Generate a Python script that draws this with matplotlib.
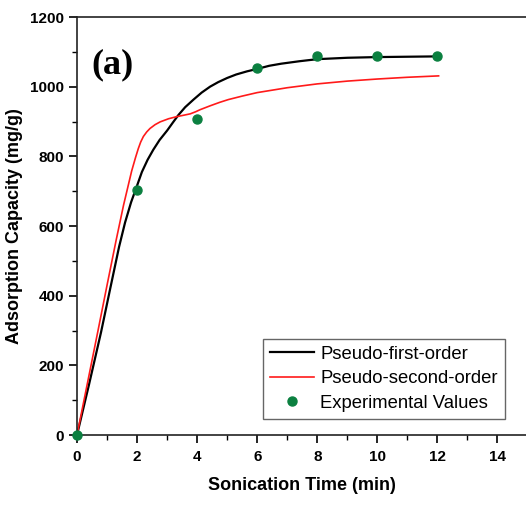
import matplotlib.pyplot as plt
from matplotlib.ticker import MultipleLocator

# valores
t_exp = [0, 2, 4, 6, 8, 10, 12]
q_exp = [0, 703, 907, 1053, 1089, 1089, 1089]

t_pfo = [0, 0.4, 0.8, 1.1, 1.4, 1.6, 1.8, 2.0, 2.16, 2.35, 2.54, 2.75, 3.0, 3.2, 3.38,
         3.6, 3.88, 4.15, 4.43, 4.7, 5.0, 5.3, 5.66, 6.0, 6.4, 6.8, 7.4, 8.0, 9.0,
         10.0, 11.0, 12.04]
q_pfo = [0, 145, 295, 418, 540, 610, 668, 716, 755, 790, 819, 847, 874, 898, 919,
         941, 963, 983, 1000, 1013, 1025, 1035, 1044, 1051, 1060, 1066, 1073, 1079,
         1083, 1085, 1086, 1087]

t_pso = [0, 0.35, 0.7, 1.0, 1.3, 1.55, 1.82, 1.95, 2.04, 2.12, 2.21, 2.32, 2.43, 2.6,
         2.77, 3.05, 3.32, 3.55, 3.77, 3.95, 4.1, 4.43, 4.75, 5.04, 5.5, 6.0, 7.0, 8.0,
         9.0, 10.0, 11.0, 12.04]
q_pso = [0, 150, 300, 430, 558, 660, 758, 797, 822, 841, 857, 870, 880, 891,
         899, 908, 914, 918, 922, 928, 934, 945, 955, 963, 973, 983, 997, 1008,
         1016, 1022, 1027, 1031]

plt.rcParams['font.family'] = ['Liberation Sans', 'DejaVu Sans']

fig = plt.figure(figsize=(5.26, 5.08), dpi=100)
ax = fig.add_axes([0.1464, 0.1437, 0.8536, 0.8228])

ax.plot(t_pfo, q_pfo, color='black', linewidth=1.6, label='Pseudo-first-order')
ax.plot(t_pso, q_pso, color='#ff1a1a', linewidth=1.2, label='Pseudo-second-order')
ax.plot(t_exp, q_exp, 'o', color='#0b8040', markersize=6.5, label='Experimental Values',
        clip_on=False, zorder=5)

ax.set_xlim(0, 14.95)
ax.set_ylim(0, 1200)
ax.xaxis.set_major_locator(MultipleLocator(2))
ax.xaxis.set_minor_locator(MultipleLocator(1))
ax.yaxis.set_major_locator(MultipleLocator(200))
ax.yaxis.set_minor_locator(MultipleLocator(100))
ax.tick_params(which='major', direction='out', length=6, width=1.2, labelsize=11)
ax.tick_params(which='minor', direction='out', length=3.5, width=1.0)
ax.tick_params(axis='x', pad=5)
for lbl in ax.get_xticklabels() + ax.get_yticklabels():
    lbl.set_fontweight('bold')

ax.spines['right'].set_visible(False)
for s in ['left', 'bottom', 'top']:
    ax.spines[s].set_linewidth(1.2)
    ax.spines[s].set_color('#222222')

ax.set_xlabel('Sonication Time (min)', fontsize=13, fontweight='bold', labelpad=9)
ax.set_ylabel('Adsorption Capacity (mg/g)', fontsize=13, fontweight='bold', labelpad=5)

ax.text(0.032, 0.925, '(a)', transform=ax.transAxes, fontsize=26, fontweight='bold',
        family='Liberation Serif', va='top')

leg = ax.legend(loc='lower right', bbox_to_anchor=(0.953, 0.038), borderaxespad=0,
                fontsize=13.3, fancybox=False, framealpha=1, edgecolor='#666666',
                handlelength=2.4, handletextpad=0.3, borderpad=0.4, labelspacing=0.4)
leg.get_frame().set_linewidth(1.0)

plt.savefig('out.png', dpi=100)
